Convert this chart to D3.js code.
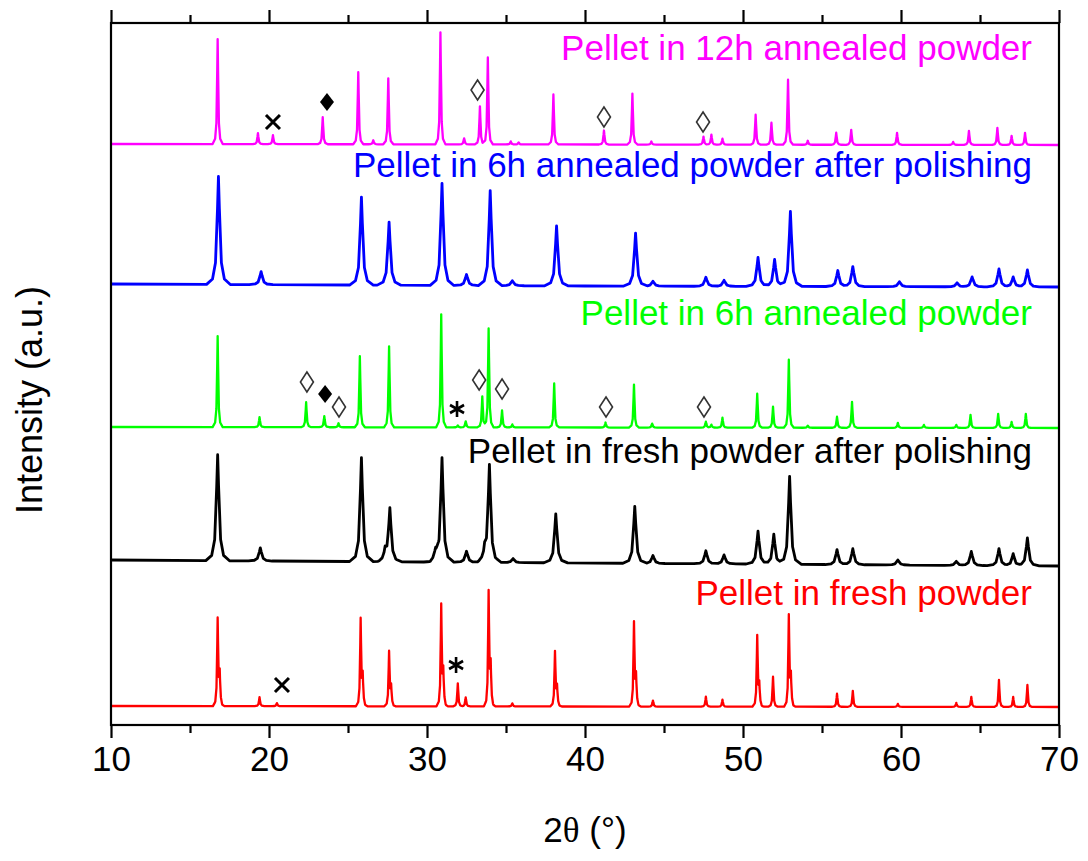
<!DOCTYPE html>
<html>
<head>
<meta charset="utf-8">
<script src="https://cdn.jsdelivr.net/npm/d3@7"></script>
<style>
  body { margin: 0; background: #fff; }
  text { font-family: Arial, "Liberation Sans", sans-serif; }
</style>
</head>
<body>
<div id="chart"></div>
<script>
// peaks: [2theta (deg), height above the pattern baseline (a.u.)]
const freshPeaks = [[16.75,86],[16.88,30],[19.4,9],[20.5,3],[25.8,86],[25.93,28],[27.6,54],[27.73,18],[30.9,100],[31.03,32],[31.95,23],[32.45,9],[33.9,113],[34.03,38],
  [35.4,3],[38.1,54],[38.23,18],[43.1,83],[43.23,28],[44.3,6],[47.65,10],[48.7,7],[50.9,70],[51.03,20],[51.9,30],[52.9,90],[53.03,28],
  [55.95,13],[56.95,16],[59.8,3],[63.5,4],[64.45,10],[66.2,27],[67.1,10],[68.0,22]]
const freshPolishedPeaks = [[16.75,106],[19.45,13],[25.85,104],[27.35,10],[27.65,53],[30.55,10],[30.95,104],[32.5,11],[33.65,10],[33.95,97],[35.45,4],
  [38.15,49],[43.15,57],[44.3,8],[47.65,13],[48.8,9],[50.95,33],[51.95,30],[52.95,88],[55.95,15],[56.95,16],[59.8,5],[63.5,4],
  [64.45,14],[66.2,17],[67.1,12],[68.0,28]]
const annealed6hPeaks = [[16.75,91],[19.4,10],[22.35,25],[23.5,11],[24.4,4],[25.75,71],[27.6,81],[30.9,113],[31.95,2],[32.45,6],[33.5,31],
  [33.9,99],[34.75,17],[35.4,3],[38.05,44],[41.3,5],[43.1,43],[44.25,4],[47.65,6],[48.0,3],[48.7,10],[50.9,34],[51.9,21],[52.9,68],
  [54.1,2],[55.95,11],[56.9,26],[59.8,5],[61.45,3],[63.5,3],[64.4,13],[66.15,14],[67.0,6],[67.9,14]]
const annealed6hPolishedPeaks = [[16.8,108],[19.5,13],[25.85,88],[27.6,63],[30.95,102],[32.5,11],[34.0,95],[35.4,5],[38.2,60],[43.2,53],
  [44.3,5],[47.65,9],[48.8,6],[50.95,29],[52.0,27],[53.0,75],[56.0,16],[56.95,20],[59.9,5],[63.55,4],[64.5,10],[66.2,18],[67.1,10],[68.0,17]]
const annealed12hPeaks = [[16.75,105],[19.3,11],[20.25,9],[23.4,27],[25.65,72],[26.6,4],[27.55,66],[30.85,112],[32.35,6],[33.35,38],[33.85,87],
  [35.3,3],[35.8,2],[38.0,50],[41.2,14],[43.0,51],[44.2,3],[47.5,8],[48.0,10],[48.7,6],[50.8,30],[51.8,22],[52.85,65],[54.1,4],
  [55.9,12],[56.85,15],[59.75,12],[63.3,3],[64.3,14],[66.1,17],[67.0,9],[67.85,12]]

// slow background drift of each pattern: [2theta, a.u.]
const freshBase = [[10,0],[70,-1]]
const freshPolishedBase = [[10,2],[30,0],[70,-4]]
const annealed6hBase = [[10,0],[70,-1]]
const annealed6hPolishedBase = [[10,1],[40,-1],[70,-2]]
const annealed12hBase = [[10,0],[70,-1]]

const seriesNames = ['Pellet in fresh powder', 'Pellet in fresh powder after polishing', 'Pellet in 6h annealed powder',
  'Pellet in 6h annealed powder after polishing', 'Pellet in 12h annealed powder']
const seriesOffsets = [19, 163, 298, 440, 581]       // vertical stacking offset, a.u.
const seriesWidths = [0.3, 0.75, 0.32, 0.75, 0.32]   // half base width of a peak, deg
const seriesPeaks = [freshPeaks, freshPolishedPeaks, annealed6hPeaks, annealed6hPolishedPeaks, annealed12hPeaks]
const seriesBases = [freshBase, freshPolishedBase, annealed6hBase, annealed6hPolishedBase, annealed12hBase]
const seriesColors = ['#ff0000', '#000000', '#00ff00', '#0000ff', '#ff00ff']
const seriesStroke = [2.3, 2.8, 2.3, 2.8, 2.3]

// phase markers: [series index, 2theta, a.u. above baseline, symbol]
const markers = [[4,20.25,22,'x'],[4,23.67,42,'fd'],[4,33.2,54,'od'],[4,41.2,27,'od'],[4,47.47,22,'od'],
  [2,22.4,45,'od'],[2,23.55,33,'fd'],[2,24.43,20,'od'],[2,31.9,18,'ast'],[2,33.3,47,'od'],[2,34.75,38,'od'],
  [2,41.33,20,'od'],[2,47.53,20,'od'],
  [0,20.82,21,'x'],[0,31.84,41,'ast']]

const xTicks = [10, 20, 30, 40, 50, 60, 70]
const xMinorTicks = [15, 25, 35, 45, 55, 65]

const width = 1088, height = 861
const margin = {top: 23, right: 29, bottom: 136, left: 111}

const svg = d3.select('#chart').append('svg')
  .attr('width', width)
  .attr('height', height)
  .style('background', '#fff')

const x = d3.scaleLinear().domain([10, 70]).range([margin.left, width - margin.right])
const y = d3.scaleLinear().domain([0, 702]).range([height - margin.bottom, margin.top])

// piecewise linear peak profile (relative offsets in half widths)
const kernelDx = [-1, -0.5, -0.25, -0.08, 0, 0.08, 0.25, 0.5, 1]
const kernelRel = [0, 0.05, 0.2, 0.7, 1, 0.7, 0.2, 0.05, 0]

function interp(pts, xv) {
  for (let i = 0; i < pts.length - 1; i++) {
    if (xv >= pts[i][0] && xv <= pts[i + 1][0]) {
      let t = (xv - pts[i][0]) / (pts[i + 1][0] - pts[i][0] || 1)
      return pts[i][1] + t * (pts[i + 1][1] - pts[i][1])
    }
  }
  return xv < pts[0][0] ? pts[0][1] : pts[pts.length - 1][1]
}

function buildPattern(i) {
  let w = seriesWidths[i]
  let peaks = seriesPeaks[i]
  let knots = [10, 70].concat(seriesBases[i].map(d => d[0]))
  peaks.forEach(p => kernelDx.forEach(k => knots.push(p[0] + k * w)))
  knots = Array.from(new Set(knots)).filter(v => v >= 10 && v <= 70).sort((a, b) => a - b)
  return knots.map(xv => {
    let v = seriesOffsets[i] + interp(seriesBases[i], xv)
    peaks.forEach(p => {
      let prof = kernelDx.map((k, j) => [p[0] + k * w, kernelRel[j] * p[1]])
      if (xv > prof[0][0] && xv < prof[prof.length - 1][0]) v += interp(prof, xv)
    })
    return [xv, v]
  })
}

const line = d3.line().x(d => x(d[0])).y(d => y(d[1]))

seriesNames.forEach((name, i) => {
  svg.append('path')
    .datum(buildPattern(i))
    .attr('d', line)
    .attr('fill', 'none')
    .attr('stroke', seriesColors[i])
    .attr('stroke-width', seriesStroke[i])
    .attr('stroke-linejoin', 'round')
})

// labels, right aligned above each pattern
const labelRise = [101, 99, 102, 108, 84]
seriesNames.forEach((name, i) => {
  svg.append('text')
    .attr('x', 1032)
    .attr('y', y(seriesOffsets[i]) - labelRise[i])
    .attr('text-anchor', 'end')
    .attr('font-size', 35)
    .attr('fill', seriesColors[i])
    .text(name)
})

// markers
markers.forEach(m => {
  let cx = x(m[1]), cy = y(seriesOffsets[m[0]] + m[2])
  let g = svg.append('g').attr('transform', `translate(${cx},${cy})`)
  if (m[3] === 'x') {
    g.append('path').attr('d', 'M-7,-7L7,7M-7,7L7,-7')
      .attr('stroke', '#000').attr('stroke-width', 3).attr('fill', 'none')
  } else if (m[3] === 'fd') {
    g.append('path').attr('d', 'M0,-9L7,0L0,9L-7,0Z').attr('fill', '#000')
  } else if (m[3] === 'od') {
    g.append('path').attr('d', 'M0,-10L6.5,0L0,10L-6.5,0Z')
      .attr('fill', 'none').attr('stroke', '#333').attr('stroke-width', 1.6)
  } else {
    g.append('path').attr('d', 'M0,-8L0,8M-7,-4L7,4M-7,4L7,-4')
      .attr('stroke', '#000').attr('stroke-width', 2.6).attr('fill', 'none')
  }
})

// frame
svg.append('rect')
  .attr('x', x(10)).attr('y', y(702))
  .attr('width', x(70) - x(10)).attr('height', y(0) - y(702))
  .attr('fill', 'none').attr('stroke', '#000').attr('stroke-width', 2.2)

const bottomAxis = svg.append('g')
  .attr('transform', `translate(0,${y(0)})`)
  .call(d3.axisBottom(x).tickValues(xTicks).tickSize(13).tickPadding(8).tickFormat(d3.format('d')))
bottomAxis.call(g => g.select('.domain').remove())
bottomAxis.selectAll('.tick line').attr('stroke-width', 2.2)
bottomAxis.selectAll('text').attr('font-size', 35).attr('fill', '#000')
  .style('font-family', 'Arial, "Liberation Sans", sans-serif')

svg.append('g')
  .attr('transform', `translate(0,${y(0)})`)
  .call(d3.axisBottom(x).tickValues(xMinorTicks).tickSize(8).tickFormat(''))
  .call(g => g.select('.domain').remove())
  .selectAll('.tick line').attr('stroke-width', 2.2)

svg.append('g')
  .attr('transform', `translate(0,${y(702)})`)
  .call(d3.axisTop(x).tickValues(xTicks).tickSize(13).tickFormat(''))
  .call(g => g.select('.domain').remove())
  .selectAll('.tick line').attr('stroke-width', 2.2)

svg.append('g')
  .attr('transform', `translate(0,${y(702)})`)
  .call(d3.axisTop(x).tickValues(xMinorTicks).tickSize(8).tickFormat(''))
  .call(g => g.select('.domain').remove())
  .selectAll('.tick line').attr('stroke-width', 2.2)

// axis titles
let xt = svg.append('text')
  .attr('x', x(40)).attr('y', 842)
  .attr('text-anchor', 'middle')
  .attr('font-size', 35)
xt.append('tspan').text('2')
xt.append('tspan').style('font-family', '"Liberation Serif", "Times New Roman", serif').text('θ')
xt.append('tspan').text(' (°)')

svg.append('text')
  .attr('transform', 'translate(42,400) rotate(-90)')
  .attr('text-anchor', 'middle')
  .attr('font-size', 36)
  .text('Intensity (a.u.)')
</script>
</body>
</html>
